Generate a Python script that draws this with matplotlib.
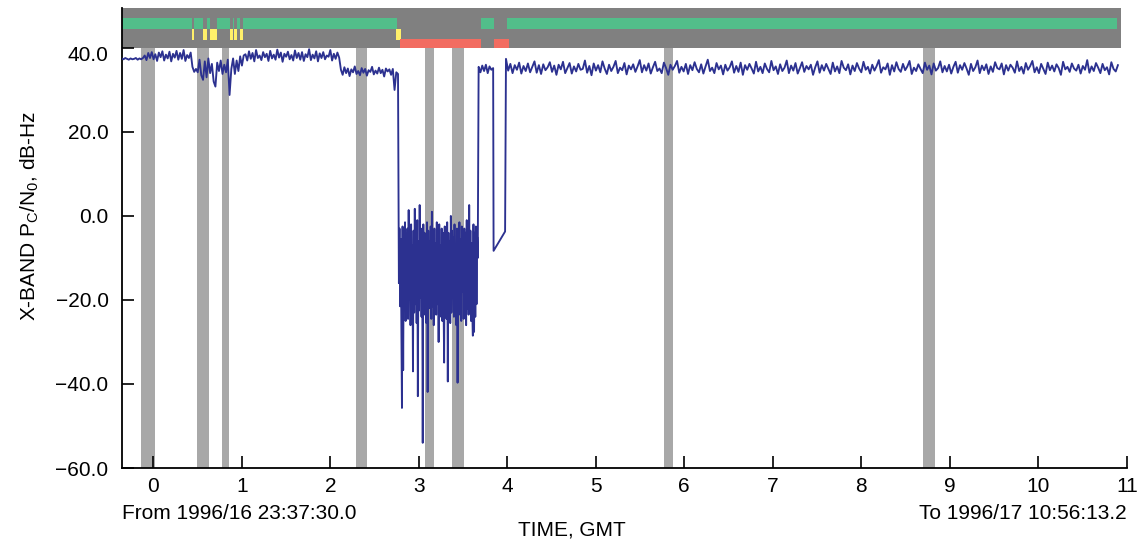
"""X-band Pc/N0 pass plot with station/lock status bars along the top."""
import matplotlib

matplotlib.use("Agg")
import matplotlib.pyplot as plt
import matplotlib.transforms as mtransforms
import numpy as np

plt.rcParams.update(
    {
        "font.family": ["Liberation Sans", "DejaVu Sans"],
        "font.size": 15,
        "mathtext.default": "regular",
        "axes.unicode_minus": True,
    }
)

# --- data (hours past start, dB-Hz) ---
# segment A: start of pass up to first level shift
SNR_A = [
    37.5, 37.3, 37.6, 37.4, 37.2, 37.5, 37.3, 37.4, 37.6, 37.2, 37.5, 37.3, 37.6,
    38.2, 37.1, 38.8, 37.6, 39.0, 37.3, 38.5, 36.9, 38.9, 37.8, 39.2, 37.0, 38.4,
    37.5, 39.1, 36.8, 38.6, 37.7, 39.3, 37.2, 38.8, 37.4, 39.5, 36.9, 38.3, 37.6, 38.9,
    35.5, 34.3, 35.0, 34.2, 37.2, 33.5, 32.4, 36.8, 33.0, 37.5, 34.0, 36.2, 32.0, 30.8,
    36.5, 34.5, 37.0, 33.8, 36.0, 34.2, 37.2, 28.8, 35.0, 37.5, 33.8, 37.0, 34.5, 38.0,
    35.8, 38.2,
    38.5, 37.0, 39.2, 37.4, 38.8, 36.8, 39.5, 37.6, 38.2, 37.1, 39.0, 37.8, 38.6, 36.9,
    39.3, 37.5, 38.4, 37.2, 39.6, 37.7, 38.9, 36.7, 38.6, 37.9, 39.1, 37.3, 38.3, 37.0,
    39.4, 37.6, 38.8, 37.2, 39.0, 36.9, 38.5, 37.8, 39.7, 37.1, 38.4, 37.5, 39.2, 36.8,
    38.7, 37.6, 39.0, 37.3, 38.2, 37.9, 39.5, 37.0, 38.6, 37.4, 38.9, 37.7,
]
# segment B: lower plateau before the loss of lock
SNR_B = [
    34.8, 33.6, 35.4, 34.0, 35.1, 33.3, 34.9, 34.2, 35.6, 33.8, 34.5, 33.5, 35.2, 34.1,
    35.0, 33.4, 34.7, 34.3, 35.5, 33.7, 34.6, 33.9, 35.3, 34.0, 34.8, 33.2, 35.1, 34.4,
    34.9, 33.6, 35.0, 30.0, 34.2, 33.8,
]
# segment C: out-of-lock noise
SNR_C = [
    -16.0, -3.0, -21.5, -5.5, -24.0, -45.7, -2.5, -36.7, -4.0, -22.0,
    -1.5, -25.0, -6.5, -19.0, -3.0, -24.5, 1.4, -20.0, -5.0, -26.0,
    -2.0, -17.5, -7.0, -37.0, -3.5, -23.0, 1.7, -21.0, -4.5, -25.5,
    -1.0, -42.9, -6.0, -22.5, 2.6, -19.5, -3.0, -24.0, -5.5, -54.0,
    -2.0, -23.5, -4.0, -20.0, -7.5, -25.5, -1.5, -41.9, -3.5, -22.0,
    -6.0, -18.0, -2.5, -24.5, 1.0, -21.5, -4.5, -26.0, -3.0, -19.0,
    -6.5, -23.5, -1.5, -21.0, -5.0, -30.0, -2.0, -24.0, -7.0, -20.5,
    -3.0, -25.0, -4.0, -18.5, -34.9, -2.5, -22.5, -5.5, -24.5, -1.5,
    -39.4, -4.0, -21.0, -6.0, -25.5, 0.0, -23.0, -3.5, -19.5, -5.0,
    -24.0, -2.0, -22.0, -7.0, -26.0, -3.0, -39.7, -4.5, -20.5, -1.5,
    -23.5, -5.5, -25.0, -2.5, -18.0, -6.0, -24.5, -3.0, -21.5, -4.0,
    -26.0, -1.0, -22.0, -5.0, -23.5, 2.6, -20.0, -3.5, -25.0, -6.5,
    -22.5, -28.5, -2.0, -27.6, -4.0, -24.0, -2.5, -21.0, -5.0, -10.0,
]
# segment D: short reacquisition
SNR_D = [35.5, 34.2, 35.8, 34.5, 36.0, 34.0, 35.6, 34.8, 35.2]
# drop-out ramp
TIME_LINK = [3.845, 3.975]
SNR_LINK = [-8.3, -3.7]
# segment E: rest of the pass
SNR_E = [
    37.4, 34.6, 36.2, 34.0, 35.9, 34.8, 36.5, 33.9, 35.7, 34.5, 36.3, 34.2, 35.5, 36.8, 34.1, 35.9, 33.8, 36.1, 34.7, 35.4,
    36.6, 34.3, 35.8, 33.6, 36.0, 34.9, 36.7, 34.0, 35.2, 36.4, 33.9, 35.6, 34.4, 36.2, 34.8, 35.0, 37.0, 34.1, 35.7, 33.5,
    36.3, 34.6, 35.9, 34.2, 36.8, 35.1, 33.8, 36.0, 34.5, 35.5, 36.9, 34.0, 35.3, 34.7, 36.4, 33.7, 35.8, 34.9, 36.1, 34.3,
    35.6, 37.1, 34.2, 35.9, 34.6, 36.3, 33.9, 35.4, 36.7, 34.5, 35.1, 34.0, 36.5, 35.2, 33.6, 36.0, 34.8, 35.7, 36.9, 34.1,
    35.5, 34.4, 36.2, 33.8, 35.9, 34.7, 36.6, 35.0, 34.2, 36.1, 33.9, 35.6, 37.2, 34.5, 35.3, 34.0, 36.4, 34.9, 35.8, 33.7,
    36.0, 34.6, 35.4, 36.8, 34.1, 35.7, 34.3, 36.5, 33.6, 35.9, 34.8, 36.2, 35.1, 33.9, 36.7, 34.4, 35.5, 34.0, 36.3, 35.0,
    34.2, 36.9, 34.7, 35.6, 33.8, 36.1, 34.5, 35.3, 37.0, 34.0, 35.8, 34.6, 36.4, 33.9, 35.2, 36.6, 34.3, 35.7, 34.9, 36.0,
    33.6, 35.4, 36.8, 34.1, 35.9, 34.6, 36.2, 35.0, 33.8, 36.5, 34.4, 35.6, 34.0, 36.9, 35.3, 34.7, 36.1, 33.7, 35.8, 34.5,
    36.4, 35.1, 34.2, 36.7, 34.8, 35.5, 33.9, 36.0, 34.6, 35.7, 37.1, 34.1, 35.4, 34.9, 36.3, 33.6, 35.9, 34.4, 36.6, 35.0,
    34.3, 36.2, 34.7, 35.6, 36.9, 33.8, 35.3, 34.5, 36.1, 35.0, 34.0, 36.5, 34.8, 35.8, 33.7, 36.3, 34.6, 35.2, 36.8, 34.2,
    35.7, 34.4, 36.0, 33.9, 35.5, 36.7, 34.1, 35.9, 34.8, 36.4, 35.1, 33.6, 36.2, 34.5, 35.4, 37.0, 34.0, 35.8, 34.7, 36.1,
    33.8, 35.6, 34.3, 36.6, 35.2, 34.9, 36.3, 33.7, 35.9, 34.6, 36.0, 35.3, 34.1, 36.8, 34.5, 35.5, 33.9, 36.4, 34.8, 35.7,
    36.9, 34.2, 35.4, 34.0, 36.2, 35.0, 33.8, 36.5, 34.7, 35.8, 34.4, 36.1, 35.2, 33.6, 36.7, 34.9, 35.5, 34.3, 36.3, 35.1,
    34.6, 36.0, 33.9, 35.7, 34.8, 37.1, 34.1, 35.6, 34.5, 36.4, 35.3, 34.0, 36.2, 34.7, 35.4, 33.7, 36.6, 35.0, 34.4, 35.9,
]
# (start, end) hours of each sampled segment
SEGMENT_SPANS = [(-0.357, 2.10), (2.12, 2.765), (2.775, 3.666), (3.676, 3.840), (3.985, 10.90)]

# gray shaded intervals (hours)
SHADE_START = [-0.139, 0.494, 0.776, 2.290, 3.070, 3.375, 5.770, 8.700]
SHADE_END = [0.019, 0.629, 0.855, 2.415, 3.170, 3.510, 5.870, 8.830]

# status bar along the top
BAND_SPAN = (-0.357, 10.93)
GREEN_START = [-0.357, 0.463, 0.610, 0.716, 0.897, 0.942, 1.010, 3.703, 4.000]
GREEN_END = [0.441, 0.558, 0.637, 0.867, 0.908, 0.976, 2.750, 3.850, 10.890]
YELLOW_START = [0.441, 0.558, 0.637, 0.867, 0.908, 0.976, 2.742]
YELLOW_END = [0.463, 0.610, 0.716, 0.897, 0.942, 1.010, 2.795]
RED_START = [2.788, 3.850]
RED_END = [3.703, 4.020]

X_TICKS = list(range(0, 12))
Y_TICKS = [-60, -40, -20, 0, 20, 40]

LINE_COLOR = "#2c3190"


def _spans(starts, ends):
    return [(s, e - s) for s, e in zip(starts, ends)]


def build_trace():
    times, values = [], []
    for (start, end), seg in zip(SEGMENT_SPANS[:4], [SNR_A, SNR_B, SNR_C, SNR_D]):
        times.append(np.linspace(start, end, len(seg)))
        values.append(np.asarray(seg, dtype=float))
    times.append(np.asarray(TIME_LINK))
    values.append(np.asarray(SNR_LINK))
    start, end = SEGMENT_SPANS[4]
    times.append(np.linspace(start, end, len(SNR_E)))
    values.append(np.asarray(SNR_E, dtype=float))
    return np.concatenate(times), np.concatenate(values)


fig = plt.figure(figsize=(11.43, 5.42), dpi=100)
ax = fig.add_axes([0.1065, 0.1365, 0.8793, 0.8487])

ax.broken_barh(_spans(SHADE_START, SHADE_END), (-60, 100), facecolor="#a8a8a8", zorder=1)
ax.broken_barh([(BAND_SPAN[0], BAND_SPAN[1] - BAND_SPAN[0])], (40, 9.5), facecolor="#808080", zorder=1)
ax.broken_barh(_spans(GREEN_START, GREEN_END), (44.5, 2.6), facecolor="#52be8a", zorder=2)
ax.broken_barh(_spans(YELLOW_START, YELLOW_END), (41.9, 2.5), facecolor="#fff06a", zorder=2)
ax.broken_barh(_spans(RED_START, RED_END), (40.0, 2.1), facecolor="#f26c61", zorder=2)

t, snr = build_trace()
ax.plot(t, snr, color=LINE_COLOR, linewidth=1.35, zorder=3)

ax.set_xlim(-0.357, 11.0)
ax.set_ylim(-60, 49.5)
for side in ("top", "right"):
    ax.spines[side].set_visible(False)
for side in ("left", "bottom"):
    ax.spines[side].set_linewidth(1.3)

ax.set_xticks(X_TICKS, [str(v) for v in X_TICKS])
ax.set_yticks(Y_TICKS, [f"{v:.1f}".replace("-", "\u2212") for v in Y_TICKS])
ax.tick_params(direction="in", length=8.6, width=1.2)
ax.tick_params(axis="x", pad=6.5)
ax.tick_params(axis="y", pad=9.5)

# the top label sits a little below its tick, clear of the status bar
top_label = ax.yaxis.get_major_ticks()[-1].label1
top_label.set_transform(top_label.get_transform() + mtransforms.ScaledTranslation(0, -0.06, fig.dpi_scale_trans))

fig.text(0.1067, 0.0535, "From 1996/16 23:37:30.0", ha="left", va="center")
fig.text(0.9858, 0.0535, "To 1996/17 10:56:13.2", ha="right", va="center")
fig.text(0.5, 0.022, "TIME, GMT", ha="center", va="center")
fig.text(
    0.0258, 0.6015, r"X-BAND P$_{\mathregular{C}}$/N$_{\mathregular{0}}$, dB-Hz",
    rotation=90, ha="center", va="center",
)

fig.savefig("out.png", dpi=100)
